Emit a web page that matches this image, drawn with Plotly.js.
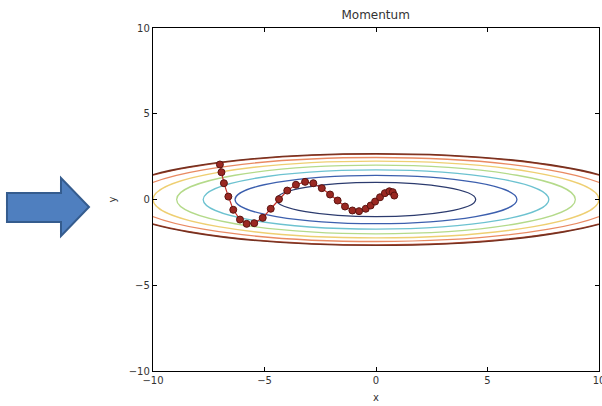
<!DOCTYPE html>
<html>
<head>
<meta charset="utf-8">
<script src="https://cdn.plot.ly/plotly-3.0.1.min.js"></script>
<style>
  html, body { margin: 0; padding: 0; background: #ffffff; }
  #chart { width: 602px; height: 406px; }
</style>
</head>
<body>
<div id="chart"></div>
<script>
// Optimizer path (momentum), starting at (-7, 2)
const pathX = [-7.00, -6.93, -6.82, -6.62, -6.40, -6.10, -5.80, -5.46, -5.08, -4.72,
               -4.35, -3.98, -3.59, -3.18, -2.81, -2.43, -2.06, -1.72, -1.39, -1.06,
               -0.76, -0.46, -0.24, -0.04, 0.18, 0.40, 0.60, 0.75, 0.82];
const pathY = [2.04, 1.59, 0.95, 0.17, -0.60, -1.17, -1.42, -1.38, -1.07, -0.54,
               0.02, 0.52, 0.86, 1.03, 0.95, 0.66, 0.29, -0.06, -0.41, -0.64,
               -0.68, -0.54, -0.35, -0.12, 0.13, 0.37, 0.48, 0.43, 0.23];

// Contour rings of the loss surface: half-widths along x and y, and line colours
const ringHalfX = [4.47, 6.32, 7.75, 8.94, 10.0, 10.95, 11.83, 11.9];
const ringHalfY = [1.00, 1.41, 1.73, 2.00, 2.24, 2.45, 2.65, 2.68];
const ringColors = ['#2c3b6e', '#3c5fae', '#6cc2d0', '#b4da8a', '#eecf72', '#e98a62', '#b04a34', '#74301f'];

// Axis ticks
const tickVals = [-10, -5, 0, 5, 10];

const rings = ringHalfX.map((hx, i) => ({
  type: 'circle', xref: 'x', yref: 'y',
  x0: -hx, x1: hx, y0: -ringHalfY[i], y1: ringHalfY[i],
  line: { color: ringColors[i], width: 1.3 },
  layer: 'below'
}));

// Block arrow pointing at the chart (paper coordinates)
const arrow = {
  type: 'path', xref: 'paper', yref: 'paper',
  path: 'M -0.3274 0.519 L -0.2063 0.519 L -0.2063 0.5627 L -0.1435 0.478 ' +
        'L -0.2063 0.3936 L -0.2063 0.4344 L -0.3274 0.4344 Z',
  fillcolor: '#4f7fbf',
  line: { color: '#355c8e', width: 2 }
};

const trace = {
  x: pathX, y: pathY,
  type: 'scatter', mode: 'lines+markers',
  line: { color: '#c4302a', width: 1.2 },
  marker: { size: 7, color: '#9a2822', line: { color: '#5a1410', width: 1 } },
  hoverinfo: 'skip'
};

const axisCommon = {
  range: [-10, 10],
  tickvals: tickVals,
  ticks: 'inside', ticklen: 4, tickwidth: 1, tickcolor: '#000',
  showline: true, linecolor: '#000', linewidth: 1.2, mirror: 'ticks',
  showgrid: false, zeroline: false,
  ticklabeloverflow: 'allow',
  tickfont: { family: 'DejaVu Sans', size: 10, color: '#333' }
};

const layout = {
  width: 602, height: 406,
  margin: { l: 153, r: 3, t: 28, b: 35 },
  paper_bgcolor: '#ffffff', plot_bgcolor: '#ffffff',
  showlegend: false,
  title: {
    text: 'Momentum', x: 0.624, xanchor: 'center', y: 0.963, yanchor: 'middle',
    font: { family: 'DejaVu Sans', size: 12, color: '#333' }
  },
  xaxis: Object.assign({}, axisCommon, {
    title: { text: 'x', standoff: 8, font: { family: 'DejaVu Sans', size: 10, color: '#333' } }
  }),
  yaxis: Object.assign({}, axisCommon, {
    title: { text: 'y', standoff: 10, font: { family: 'DejaVu Sans', size: 10, color: '#333' } }
  }),
  shapes: rings.concat([arrow])
};

Plotly.newPlot('chart', [trace], layout, { staticPlot: true, displayModeBar: false });
</script>
</body>
</html>
